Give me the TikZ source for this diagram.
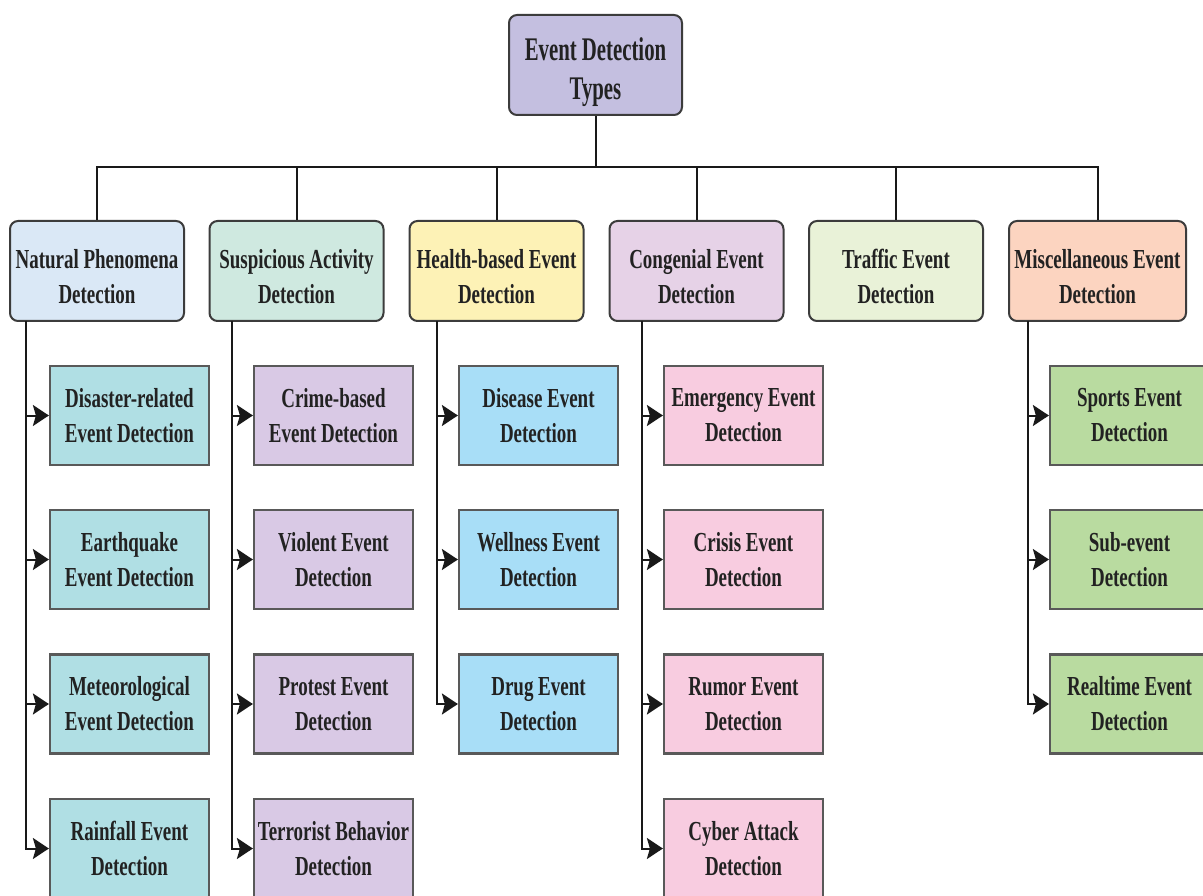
\documentclass[tikz,border=0pt]{standalone}
\usepackage{fontspec}
\setmainfont{Liberation Serif}[FakeStretch=0.69]
\newfontfamily\topfont{Liberation Serif}[FakeStretch=0.63]
\usetikzlibrary{arrows.meta}
\definecolor{bordc}{HTML}{3C3C3C}
\definecolor{topc}{HTML}{C4BFE0}
\definecolor{natc}{HTML}{DAE8F6}
\definecolor{susc}{HTML}{CFE9E0}
\definecolor{heac}{HTML}{FDF2B6}
\definecolor{conc}{HTML}{E6D2E7}
\definecolor{trac}{HTML}{E9F2D8}
\definecolor{misc}{HTML}{FCD4C0}
\definecolor{natk}{HTML}{B0DFE4}
\definecolor{susk}{HTML}{D9C9E5}
\definecolor{heak}{HTML}{A8DEF7}
\definecolor{conk}{HTML}{F8CCE0}
\definecolor{misk}{HTML}{B9DBA0}
\definecolor{txt}{HTML}{222222}
\newcommand{\upstrut}[1]{\rule{0pt}{#1}}
\tikzset{
  box/.style={draw=bordc, line width=2pt, align=center, inner sep=0pt, text=txt,
    font=\fontsize{27.5}{35}\selectfont\bfseries},
  catbox/.style={box, rounded corners=8pt, minimum width=174pt, minimum height=100pt},
  topbox/.style={catbox, minimum width=173pt, font=\topfont\fontsize{33}{39}\selectfont\bfseries},
  kidbox/.style={box, draw=bordc!85, line width=2.2pt, minimum width=159pt, minimum height=99pt},
  conn/.style={draw=black!90, line width=2pt},
  arr/.style={conn, -{Stealth[length=16pt,width=21pt,inset=3pt]}}
}
\begin{document}
\begin{tikzpicture}[x=1pt,y=-1pt]
\useasboundingbox (0,0) rectangle (1203,896);
\clip (0,0) rectangle (1203,896);
\fill[white] (0,0) rectangle (1203,896);

\node[topbox, fill=topc] (top) at (595.5,65) {\upstrut{38pt}Event Detection\\Types};

\node[catbox, fill=natc] (c1) at (97,271) {\upstrut{30pt}Natural Phenomena\\Detection};
\node[catbox, fill=susc] (c2) at (296.5,271) {\upstrut{30pt}Suspicious Activity\\Detection};
\node[catbox, fill=heac] (c3) at (496.5,271) {\upstrut{30pt}Health-based Event\\Detection};
\node[catbox, fill=conc] (c4) at (696.5,271) {\upstrut{30pt}Congenial Event\\Detection};
\node[catbox, fill=trac] (c5) at (896,271) {\upstrut{30pt}Traffic Event\\Detection};
\node[catbox, fill=misc, minimum width=177pt] (c6) at (1097.5,271) {\upstrut{30pt}Miscellaneous Event\\Detection};

\coordinate (bus) at (595.5,167);
\draw[conn] (top.south) -- (bus);
\draw[conn] (c1.north) |- (bus) -| (c6.north);
\foreach \c in {c2,c3,c4,c5} \draw[conn] (\c.north) -- (\c.north |- bus);

% Natural children
\node[kidbox, fill=natk] (n1) at (129.5,415.5) {Disaster-related\\Event Detection};
\node[kidbox, fill=natk] (n2) at (129.5,559.5) {Earthquake\\Event Detection};
\node[kidbox, fill=natk] (n3) at (129.5,704) {Meteorological\\Event Detection};
\node[kidbox, fill=natk] (n4) at (129.5,848.5) {Rainfall Event\\Detection};
% Suspicious children
\node[kidbox, fill=susk] (s1) at (333.5,415.5) {Crime-based\\Event Detection};
\node[kidbox, fill=susk] (s2) at (333.5,559.5) {Violent Event\\Detection};
\node[kidbox, fill=susk] (s3) at (333.5,704) {Protest Event\\Detection};
\node[kidbox, fill=susk] (s4) at (333.5,848.5) {Terrorist Behavior\\Detection};
% Health children
\node[kidbox, fill=heak] (h1) at (538.5,415.5) {Disease Event\\Detection};
\node[kidbox, fill=heak] (h2) at (538.5,559.5) {Wellness Event\\Detection};
\node[kidbox, fill=heak] (h3) at (538.5,704) {Drug Event\\Detection};
% Congenial children
\node[kidbox, fill=conk] (g1) at (743.5,415.5) {Emergency Event\\Detection};
\node[kidbox, fill=conk] (g2) at (743.5,559.5) {Crisis Event\\Detection};
\node[kidbox, fill=conk] (g3) at (743.5,704) {Rumor Event\\Detection};
\node[kidbox, fill=conk] (g4) at (743.5,848.5) {Cyber Attack\\Detection};
% Misc children
\node[kidbox, fill=misk] (m1) at (1129.5,415.5) {Sports Event\\Detection};
\node[kidbox, fill=misk] (m2) at (1129.5,559.5) {Sub-event\\Detection};
\node[kidbox, fill=misk] (m3) at (1129.5,704) {Realtime Event\\Detection};

% vertical trunks
\coordinate (v1) at (26,321);
\coordinate (v2) at (232,321);
\coordinate (v3) at (437,321);
\coordinate (v4) at (642,321);
\coordinate (v6) at (1028,321);

\draw[arr] (v1) |- (n4.west);
\foreach \k in {n1,n2,n3} \draw[arr] (v1 |- \k.west) -- (\k.west);
\draw[arr] (v2) |- (s4.west);
\foreach \k in {s1,s2,s3} \draw[arr] (v2 |- \k.west) -- (\k.west);
\draw[arr] (v3) |- (h3.west);
\foreach \k in {h1,h2} \draw[arr] (v3 |- \k.west) -- (\k.west);
\draw[arr] (v4) |- (g4.west);
\foreach \k in {g1,g2,g3} \draw[arr] (v4 |- \k.west) -- (\k.west);
\draw[arr] (v6) |- (m3.west);
\foreach \k in {m1,m2} \draw[arr] (v6 |- \k.west) -- (\k.west);
\end{tikzpicture}
\end{document}
